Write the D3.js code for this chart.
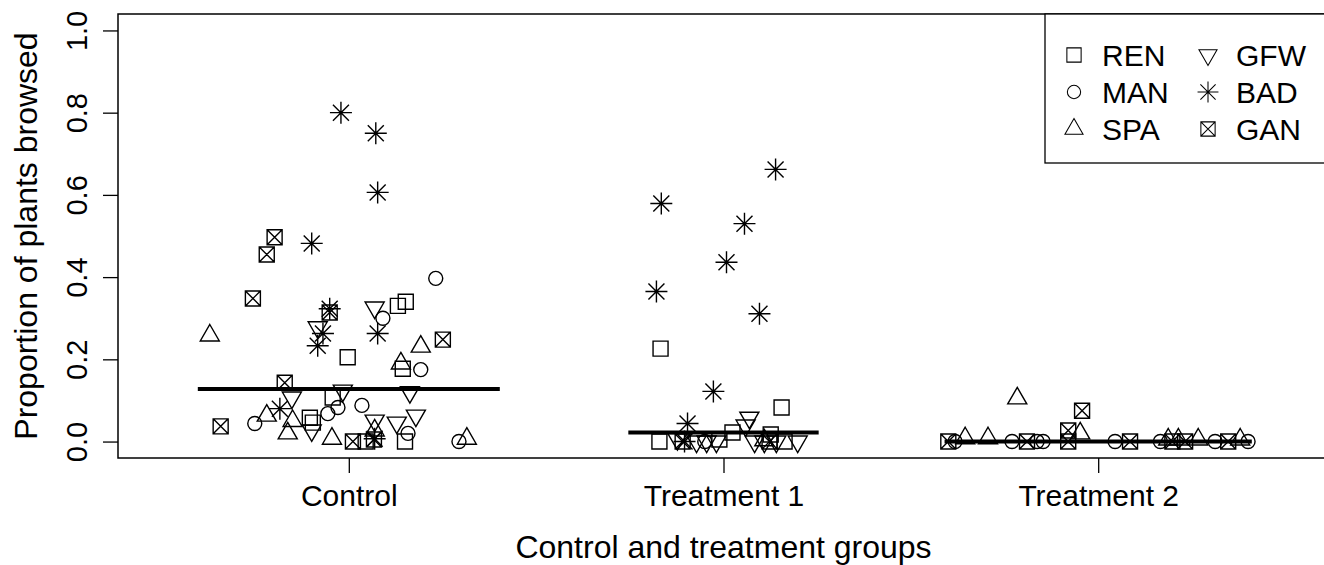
<!DOCTYPE html>
<html>
<head>
    <meta charset="utf-8">
    <script src="https://cdn.jsdelivr.net/npm/d3@7"></script>
    <title></title>
    <style>
        * {
            margin: 0;
            padding: 0;
        }

        body {
            background: #fff;
            overflow: hidden;
        }

        #chart {
            display: block;
            font-family: "Liberation Sans", Arial, sans-serif;
        }
    </style>
</head>
<body>

    <svg id="chart" width="1324" height="565"></svg>

    <script>
        // groups on the x axis
        var groups = ["Control", "Treatment 1", "Treatment 2"];
        var species = ["REN", "MAN", "SPA", "GFW", "BAD", "GAN"];
        var yTicks = [0, 0.2, 0.4, 0.6, 0.8, 1.0];

        // each point: [species, jitter offset from group centre, proportion browsed]
        var control = [
            ["BAD", -0.021, 0.80], ["BAD", 0.072, 0.75], ["BAD", 0.077, 0.606], ["BAD", -0.099, 0.482],
            ["BAD", -0.051, 0.323], ["BAD", -0.069, 0.263], ["BAD", -0.083, 0.233], ["BAD", 0.077, 0.263],
            ["BAD", -0.184, 0.08], ["BAD", 0.069, 0.007],
            ["GAN", -0.198, 0.497], ["GAN", -0.219, 0.455], ["GAN", -0.256, 0.348], ["GAN", -0.051, 0.314],
            ["GAN", -0.171, 0.143], ["GAN", -0.342, 0.037], ["GAN", 0.251, 0.248], ["GAN", 0.011, 0.0],
            ["GAN", 0.067, 0.005],
            ["REN", 0.131, 0.33], ["REN", 0.152, 0.34], ["REN", -0.003, 0.205], ["REN", 0.144, 0.177],
            ["REN", -0.043, 0.107], ["REN", -0.104, 0.058], ["REN", -0.096, 0.046], ["REN", 0.15, 0.0],
            ["REN", 0.045, 0.0],
            ["MAN", 0.232, 0.397], ["MAN", 0.091, 0.30], ["MAN", 0.192, 0.175], ["MAN", 0.035, 0.088],
            ["MAN", -0.029, 0.083], ["MAN", -0.056, 0.068], ["MAN", -0.251, 0.044], ["MAN", 0.158, 0.02],
            ["MAN", 0.294, 0.0],
            ["SPA", -0.371, 0.258], ["SPA", 0.192, 0.231], ["SPA", 0.139, 0.19], ["SPA", -0.219, 0.063],
            ["SPA", -0.15, 0.05], ["SPA", -0.163, 0.02], ["SPA", -0.045, 0.007], ["SPA", 0.069, 0.027],
            ["SPA", 0.315, 0.007],
            ["GFW", 0.069, 0.326], ["GFW", -0.083, 0.278], ["GFW", -0.152, 0.107], ["GFW", -0.016, 0.124],
            ["GFW", 0.163, 0.12], ["GFW", 0.069, 0.051], ["GFW", 0.128, 0.046], ["GFW", 0.179, 0.063],
            ["GFW", -0.099, 0.027]
        ];

        var treatment1 = [
            ["BAD", 0.139, 0.662], ["BAD", -0.166, 0.579], ["BAD", 0.056, 0.53], ["BAD", 0.008, 0.436],
            ["BAD", -0.179, 0.365], ["BAD", 0.096, 0.311], ["BAD", -0.027, 0.122], ["BAD", -0.096, 0.044],
            ["BAD", -0.104, 0.0],
            ["REN", -0.168, 0.226], ["REN", 0.155, 0.083], ["REN", -0.171, 0.0], ["REN", 0.024, 0.022],
            ["REN", 0.126, 0.017], ["REN", 0.163, 0.0], ["REN", -0.011, 0.005],
            ["GFW", 0.069, 0.058], ["GFW", 0.059, 0.039], ["GFW", -0.123, 0.006], ["GFW", -0.072, 0.0],
            ["GFW", -0.045, 0.0], ["GFW", -0.019, 0.0], ["GFW", 0.083, 0.0], ["GFW", 0.109, 0.0],
            ["GFW", 0.141, 0.0], ["GFW", 0.198, 0.0],
            ["GAN", -0.109, 0.0], ["GAN", 0.123, 0.0],
            ["SPA", 0.109, 0.003], ["MAN", -0.05, 0.0]
        ];

        var treatment2 = [
            ["SPA", -0.216, 0.105], ["GAN", -0.043, 0.075], ["GAN", -0.08, 0.027], ["SPA", -0.048, 0.02],
            ["GAN", -0.4, 0.0], ["MAN", -0.382, 0.0], ["SPA", -0.355, 0.008], ["SPA", -0.294, 0.008],
            ["MAN", -0.23, 0.0], ["GAN", -0.19, 0.0], ["MAN", -0.163, 0.0], ["MAN", -0.147, 0.0],
            ["GAN", -0.08, 0.0], ["MAN", 0.045, 0.0], ["GAN", 0.085, 0.0], ["MAN", 0.166, 0.0],
            ["SPA", 0.187, 0.005], ["GAN", 0.198, 0.0], ["SPA", 0.214, 0.005], ["GAN", 0.232, 0.0],
            ["SPA", 0.267, 0.005], ["MAN", 0.312, 0.0], ["GAN", 0.347, 0.0], ["SPA", 0.379, 0.005],
            ["MAN", 0.4, 0.0]
        ];

        // group means and half widths of the mean bars
        var means = [0.128, 0.022, 0.0];
        var meanHalf = [0.403, 0.254, 0.41];

        var chart = {};
        chart.svg = d3.select("#chart");
        chart.left = 118; chart.right = 1329; chart.top = 14; chart.bottom = 458;

        chart.x = d3.scaleLinear().domain([0.384, 3.616]).range([chart.left, chart.right]);
        chart.y = d3.scaleLinear().domain([-0.04, 1.04]).range([chart.bottom, chart.top]);

        // symbol drawing, R style pch shapes
        function symbolPath(sp) {
            var p = d3.path();
            if (sp == "REN" || sp == "GAN") {
                var h = 7.5;
                p.rect(-h, -h, 2 * h, 2 * h);
                if (sp == "GAN") {
                    p.moveTo(-h, -h); p.lineTo(h, h);
                    p.moveTo(h, -h); p.lineTo(-h, h);
                }
            } else if (sp == "MAN") {
                p.moveTo(7, 0);
                p.arc(0, 0, 7, 0, 2 * Math.PI);
            } else if (sp == "SPA" || sp == "GFW") {
                var r = 11, s = sp == "SPA" ? 1 : -1;
                p.moveTo(0, -r * s);
                p.lineTo(r * 0.866, r * 0.5 * s);
                p.lineTo(-r * 0.866, r * 0.5 * s);
                p.closePath();
            } else if (sp == "BAD") {
                var a = 11, b = 8;
                p.moveTo(-a, 0); p.lineTo(a, 0);
                p.moveTo(0, -a); p.lineTo(0, a);
                p.moveTo(-b, -b); p.lineTo(b, b);
                p.moveTo(b, -b); p.lineTo(-b, b);
            }
            return p.toString();
        }

        // axes
        chart.axisY = chart.svg.append("g")
            .attr("transform", "translate(" + chart.left + ",0)")
            .call(d3.axisLeft(chart.y).tickValues(yTicks).tickFormat(d3.format(".1f")).tickSize(15));
        chart.axisY.select(".domain").remove();
        chart.axisY.selectAll("line").attr("stroke", "#000").attr("stroke-width", 1.3);
        chart.axisY.selectAll("text")
            .attr("x", 0).attr("y", 0).attr("dy", 0)
            .attr("transform", "translate(-31,0) rotate(-90)")
            .attr("text-anchor", "middle")
            .style("font-family", "Liberation Sans, Arial, sans-serif")
            .style("font-size", "29px")
            .attr("fill", "#000");

        chart.axisX = chart.svg.append("g")
            .attr("transform", "translate(0," + chart.bottom + ")")
            .call(d3.axisBottom(chart.x).tickValues([1, 2, 3]).tickFormat(function (d) { return groups[d - 1]; }).tickSize(15));
        chart.axisX.select(".domain").remove();
        chart.axisX.selectAll("line").attr("stroke", "#000").attr("stroke-width", 1.3);
        chart.axisX.selectAll("text")
            .attr("y", 48).attr("dy", 0)
            .style("font-family", "Liberation Sans, Arial, sans-serif")
            .style("font-size", "30px")
            .attr("fill", "#000");

        // axis titles
        chart.svg.append("text")
            .attr("x", (chart.left + chart.right) / 2)
            .attr("y", 558)
            .attr("text-anchor", "middle")
            .style("font-size", "32px")
            .text("Control and treatment groups");

        chart.svg.append("text")
            .attr("transform", "translate(37," + ((chart.top + chart.bottom) / 2) + ") rotate(-90)")
            .attr("text-anchor", "middle")
            .style("font-size", "32px")
            .text("Proportion of plants browsed");

        // points
        var allGroups = [control, treatment1, treatment2];
        allGroups.forEach(function (pts, gi) {
            chart.svg.append("g")
                .selectAll("path")
                .data(pts)
                .enter()
                .append("path")
                .attr("transform", function (d) { return "translate(" + chart.x(gi + 1 + d[1]) + "," + chart.y(d[2]) + ")"; })
                .attr("d", function (d) { return symbolPath(d[0]); })
                .attr("fill", "none")
                .attr("stroke", "#000")
                .attr("stroke-width", 1.4);
        });

        // mean bars
        chart.svg.selectAll("myMeans")
            .data(means)
            .enter()
            .append("line")
            .attr("x1", function (d, i) { return chart.x(i + 1 - meanHalf[i]); })
            .attr("x2", function (d, i) { return chart.x(i + 1 + meanHalf[i]); })
            .attr("y1", function (d) { return chart.y(d); })
            .attr("y2", function (d) { return chart.y(d); })
            .attr("stroke", "#000")
            .attr("stroke-width", 4);

        // plot box
        chart.svg.append("rect")
            .attr("x", chart.left).attr("y", chart.top)
            .attr("width", chart.right - chart.left).attr("height", chart.bottom - chart.top)
            .attr("fill", "none").attr("stroke", "#000").attr("stroke-width", 1.5);

        // legend
        chart.legend = chart.svg.append("g");
        chart.legend.append("rect")
            .attr("x", 1045).attr("y", chart.top)
            .attr("width", 300).attr("height", 149)
            .attr("fill", "#fff").attr("stroke", "#000").attr("stroke-width", 1.3);

        var leg = chart.legend.selectAll("myLegend")
            .data(species)
            .enter()
            .append("g")
            .attr("transform", function (d, i) {
                return "translate(" + (i < 3 ? 1074 : 1208) + "," + (55 + (i % 3) * 37) + ")";
            });
        leg.append("path")
            .attr("d", function (d) { return symbolPath(d); })
            .attr("transform", "scale(0.95)")
            .attr("fill", "none")
            .attr("stroke", "#000")
            .attr("stroke-width", 1.1);
        leg.append("text")
            .attr("x", 28)
            .attr("dy", "0.36em")
            .style("font-size", "30px")
            .text(function (d) { return d; });
    </script>
</body>
</html>
